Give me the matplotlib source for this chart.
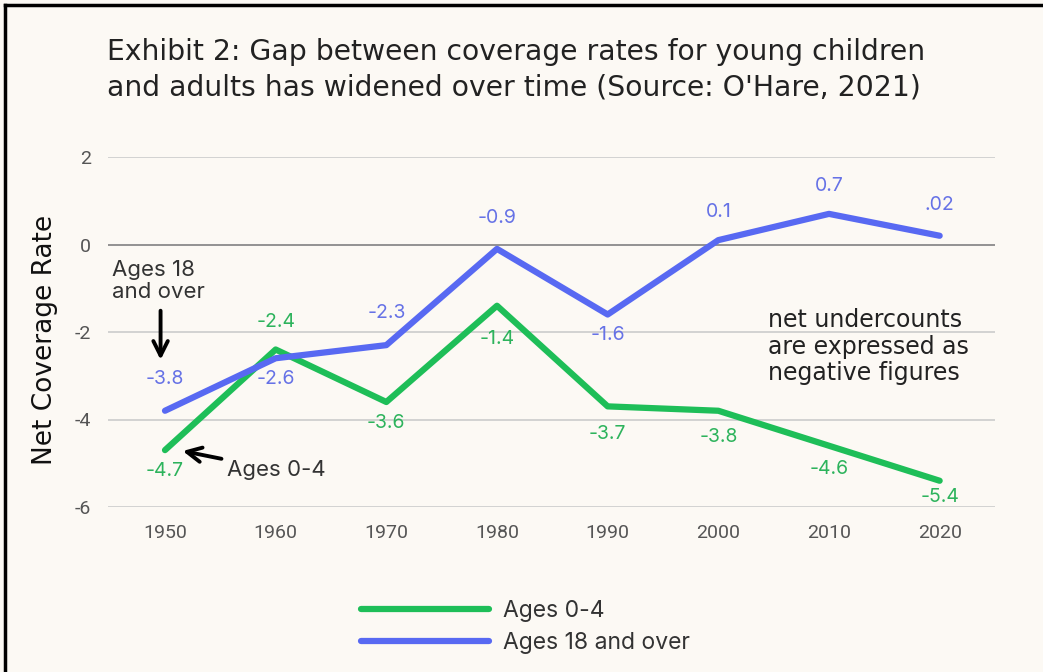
import matplotlib
matplotlib.use("Agg")

import matplotlib.pyplot as plt
from matplotlib.lines import Line2D

plt.rcParams["axes.unicode_minus"] = False

# ---------------------------------------------------------
# Data
# ---------------------------------------------------------
years = [1950, 1960, 1970, 1980, 1990, 2000, 2010, 2020]
kids = [-4.7, -2.4, -3.6, -1.4, -3.7, -3.8, -4.6, -5.4]
adults = [-3.8, -2.6, -2.3, -0.1, -1.6, 0.1, 0.7, 0.2]
kids_labels = ["-4.7", "-2.4", "-3.6", "-1.4", "-3.7", "-3.8", "-4.6", "-5.4"]
adults_labels = ["-3.8", "-2.6", "-2.3", "-0.9", "-1.6", "0.1", "0.7", ".02"]
y_ticks = [-6, -4, -2, 0, 2]

# label offsets in points (vertical)
kids_off = [-15, 20, -15, -24, -20, -19, -17, -12]
adults_off = [23, -15, 23, 22, -15, 20, 20, 22]

C_BG = "#FCF9F4"
C_GREEN = "#1EBE58"
C_BLUE = "#5869F2"
C_GREEN_T = "#2DB35C"
C_BLUE_T = "#6672E6"
C_TICK = "#555555"

FONT = ["Inter", "DejaVu Sans"]
WIDE = ["DejaVu Sans"]

fig = plt.figure(figsize=(10.43, 6.72), dpi=100)
fig.patch.set_facecolor(C_BG)
ax = fig.add_axes([108 / 1043, 1 - 507 / 672, (995 - 108) / 1043, 350 / 672])
ax.set_facecolor(C_BG)

# gridlines
for v in y_ticks:
    ax.axhline(v, color="#8A8A8A" if v == 0 else "#CFCFCF", lw=1.3, zorder=1)

ax.plot(years, kids, color=C_GREEN, lw=4.5, zorder=3, solid_capstyle="round",
        label="Ages 0-4")
ax.plot(years, adults, color=C_BLUE, lw=4.5, zorder=3, solid_capstyle="round",
        label="Ages 18 and over")

for x, y, s, o in zip(years, kids, kids_labels, kids_off):
    ax.annotate(s, (x, y), xytext=(0, o), textcoords="offset points",
                ha="center", va="center", fontsize=14, color=C_GREEN_T,
                family=FONT, zorder=4)
for x, y, s, o in zip(years, adults, adults_labels, adults_off):
    ax.annotate(s, (x, y), xytext=(0, o), textcoords="offset points",
                ha="center", va="center", fontsize=14, color=C_BLUE_T,
                family=FONT, zorder=4)

ax.set_xlim(1944.85, 2025)
ax.set_ylim(-6, 2)
ax.set_xticks(years)
ax.set_yticks(y_ticks)
ax.tick_params(length=0, colors=C_TICK, labelsize=14, pad=12)
for lab in ax.get_xticklabels() + ax.get_yticklabels():
    lab.set_family(["Roboto", "DejaVu Sans"])
for sp in ax.spines.values():
    sp.set_visible(False)
ax.set_ylabel("Net Coverage Rate", fontsize=19, color="#111111", family=WIDE)
ax.yaxis.set_label_coords(-0.056, 0.477)

# hand-drawn style callouts
ax.text(1945.2, -0.35, "Ages 18\nand over", fontsize=16, color="#333333",
        family=FONT, va="top", ha="left", linespacing=1.15)
ax.annotate("", xy=(1949.6, -2.7), xytext=(1949.6, -1.45),
            arrowprops=dict(arrowstyle="->", color="black", lw=2.8,
                            mutation_scale=26))
ax.annotate("Ages 0-4", xy=(1951.6, -4.72), xytext=(1955.6, -5.15),
            fontsize=16, color="#333333", family=FONT, va="center", ha="left",
            arrowprops=dict(arrowstyle="->", color="black", lw=2.8,
                            mutation_scale=26, shrinkA=2, shrinkB=0))

ax.text(2004.5, -1.46, "net undercounts\nare expressed as\nnegative figures",
        fontsize=17, color="#222222", family=WIDE, va="top", ha="left",
        linespacing=1.12)

fig.text(107 / 1043, 1 - 38 / 672,
         "Exhibit 2: Gap between coverage rates for young children\n"
         "and adults has widened over time (Source: O'Hare, 2021)",
         fontsize=20.3, color="#222222", family=WIDE, va="top", ha="left",
         linespacing=1.35)

leg = fig.legend(loc="upper left", bbox_to_anchor=(340 / 1043, 1 - 579 / 672),
                 frameon=False, handlelength=5.6,
                 handletextpad=0.6, labelspacing=0.45,
                 prop={"family": FONT, "size": 16.5})
for t in leg.get_texts():
    t.set_color("#333333")

# partial frame (top and left edges)
fig.add_artist(Line2D([5 / 1043, 1], [1 - 5 / 672] * 2, color="black", lw=2.5,
                      transform=fig.transFigure))
fig.add_artist(Line2D([5 / 1043] * 2, [0, 1 - 5 / 672], color="black", lw=2.5,
                      transform=fig.transFigure))

fig.savefig("out.png", dpi=100, facecolor=C_BG)
